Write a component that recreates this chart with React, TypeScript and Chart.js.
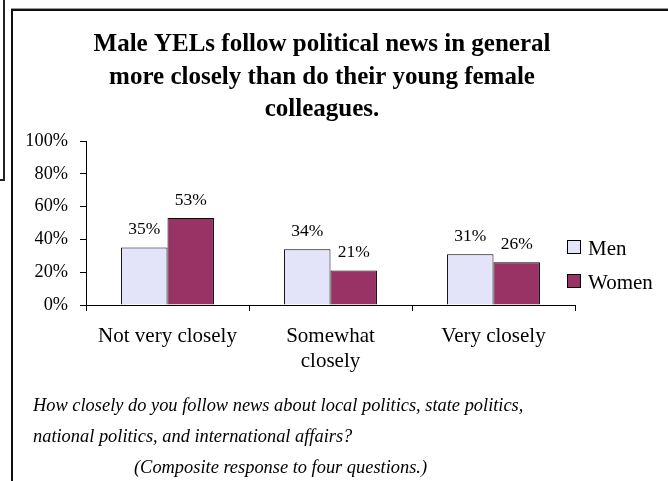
import { useEffect, useRef } from "react";
import { Chart, registerables } from "chart.js";

Chart.register(...registerables);

const categories = [["Not very closely"], ["Somewhat", "closely"], ["Very closely"]];
const seriesNames = ["Men", "Women"];
const menValues = [35, 34, 31];
const womenValues = [53, 21, 26];
const yTickValues = [0, 20, 40, 60, 80, 100];
const titleLines = [
  "Male YELs follow political news in general",
  "more closely than do their young female",
  "colleagues.",
];
const footerLines = [
  "How closely do you follow news about local politics, state politics,",
  "national politics, and international affairs?",
  "(Composite response to four questions.)",
];

const SERIF = '"Liberation Serif", "Times New Roman", Times, serif';
const MEN_COLOR = "#E3E3FA";
const WOMEN_COLOR = "#993366";

const dataLabelPlugin = {
  id: "dataLabels",
  afterDatasetsDraw(chart: any) {
    const ctx = chart.ctx;
    ctx.save();
    ctx.font = `17.5px ${SERIF}`;
    ctx.fillStyle = "#000";
    ctx.textAlign = "center";
    ctx.textBaseline = "middle";
    chart.data.datasets.forEach((ds: any, i: number) => {
      const meta = chart.getDatasetMeta(i);
      meta.data.forEach((el: any, j: number) => {
        ctx.fillText(`${ds.data[j]}%`, el.x, el.y - 18);
      });
    });
    ctx.restore();
  },
};

const sideLegendPlugin = {
  id: "sideLegend",
  afterDraw(chart: any) {
    const ctx = chart.ctx;
    ctx.save();
    ctx.font = `21px ${SERIF}`;
    ctx.textBaseline = "alphabetic";
    ctx.textAlign = "left";
    const x = 567;
    const tops = [240, 274];
    chart.data.datasets.forEach((ds: any, i: number) => {
      const y = tops[i];
      ctx.fillStyle = ds.backgroundColor;
      ctx.fillRect(x, y, 14, 14);
      ctx.strokeStyle = "#000";
      ctx.lineWidth = 1;
      ctx.strokeRect(x + 0.5, y + 0.5, 13, 13);
      ctx.fillStyle = "#000";
      ctx.fillText(ds.label, x + 21, y + 15);
    });
    ctx.restore();
  },
};

// shift the full-width title box so its centre sits where the reference has it
const titleShiftPlugin = {
  id: "titleShift",
  afterLayout(chart: any) {
    const t = chart.titleBlock;
    if (t) {
      t.left += 69;
    }
  },
};

export default function App() {
  const ref = useRef<HTMLCanvasElement | null>(null);

  useEffect(() => {
    if (!ref.current) return;
    const chart = new Chart(ref.current, {
      type: "bar",
      data: {
        labels: categories,
        datasets: [
          {
            label: seriesNames[0],
            data: menValues,
            backgroundColor: MEN_COLOR,
            borderColor: "#000",
            borderWidth: 1,
          },
          {
            label: seriesNames[1],
            data: womenValues,
            backgroundColor: WOMEN_COLOR,
            borderColor: "#000",
            borderWidth: 1,
          },
        ],
      },
      options: {
        responsive: false,
        animation: false,
        devicePixelRatio: 1,
        layout: { padding: { left: 0, right: 93, top: 0, bottom: 106 } },
        datasets: { bar: { categoryPercentage: 0.57, barPercentage: 1 } },
        plugins: {
          legend: { display: false },
          tooltip: { enabled: false },
          title: {
            display: true,
            text: titleLines,
            color: "#000",
            font: { family: SERIF, size: 25, weight: "bold", lineHeight: 1.3 },
            padding: { top: 28.5, bottom: 15 },
          },
        },
        scales: {
          x: {
            grid: {
              display: true,
              drawOnChartArea: false,
              drawTicks: true,
              tickLength: 6,
              color: "#000",
              offset: true,
            },
            border: { display: true, color: "#000" },
            ticks: {
              color: "#000",
              font: { family: SERIF, size: 21, lineHeight: 1.2 },
              padding: 13,
              maxRotation: 0,
              autoSkip: false,
            },
            afterFit: (s: any) => {
              s.height = 70;
            },
          },
          y: {
            min: 0,
            max: 100,
            afterBuildTicks: (s: any) => {
              s.ticks = yTickValues.map((v) => ({ value: v }));
            },
            grid: {
              display: true,
              drawOnChartArea: false,
              drawTicks: true,
              tickLength: 6,
              color: "#000",
            },
            border: { display: true, color: "#000" },
            ticks: {
              color: "#000",
              font: { family: SERIF, size: 18.3 },
              padding: 12,
              callback: (v: any) => `${v}%`,
            },
            afterFit: (s: any) => {
              s.width = 86;
            },
          },
        },
      },
      plugins: [dataLabelPlugin, sideLegendPlugin, titleShiftPlugin],
    });
    return () => chart.destroy();
  }, []);

  const footerStyle: any = {
    position: "absolute",
    fontFamily: SERIF,
    fontStyle: "italic",
    fontSize: 18.4,
    lineHeight: "31px",
    color: "#000",
    whiteSpace: "nowrap",
  };

  return (
    <div style={{ position: "absolute", left: 0, top: 0, width: 668, height: 481, background: "#fff", overflow: "hidden" }}>
      <div style={{ position: "absolute", left: 3, top: 0, width: 2, height: 181, background: "#222" }} />
      <div style={{ position: "absolute", left: 0, top: 179, width: 5, height: 2, background: "#222" }} />
      <div style={{ position: "absolute", left: 11, top: 9, width: 2, height: 472, background: "#111" }} />
      <div style={{ position: "absolute", left: 11, top: 8, width: 657, height: 1, background: "#999" }} />
      <div style={{ position: "absolute", left: 11, top: 9, width: 657, height: 2, background: "#111" }} />
      <canvas ref={ref} width={668} height={481} style={{ position: "absolute", left: 0, top: 0, width: 668, height: 481 }} />
      <div style={{ ...footerStyle, left: 33, top: 390 }}>{footerLines[0]}</div>
      <div style={{ ...footerStyle, left: 33, top: 421 }}>{footerLines[1]}</div>
      <div style={{ ...footerStyle, left: 134, top: 452 }}>{footerLines[2]}</div>
    </div>
  );
}
